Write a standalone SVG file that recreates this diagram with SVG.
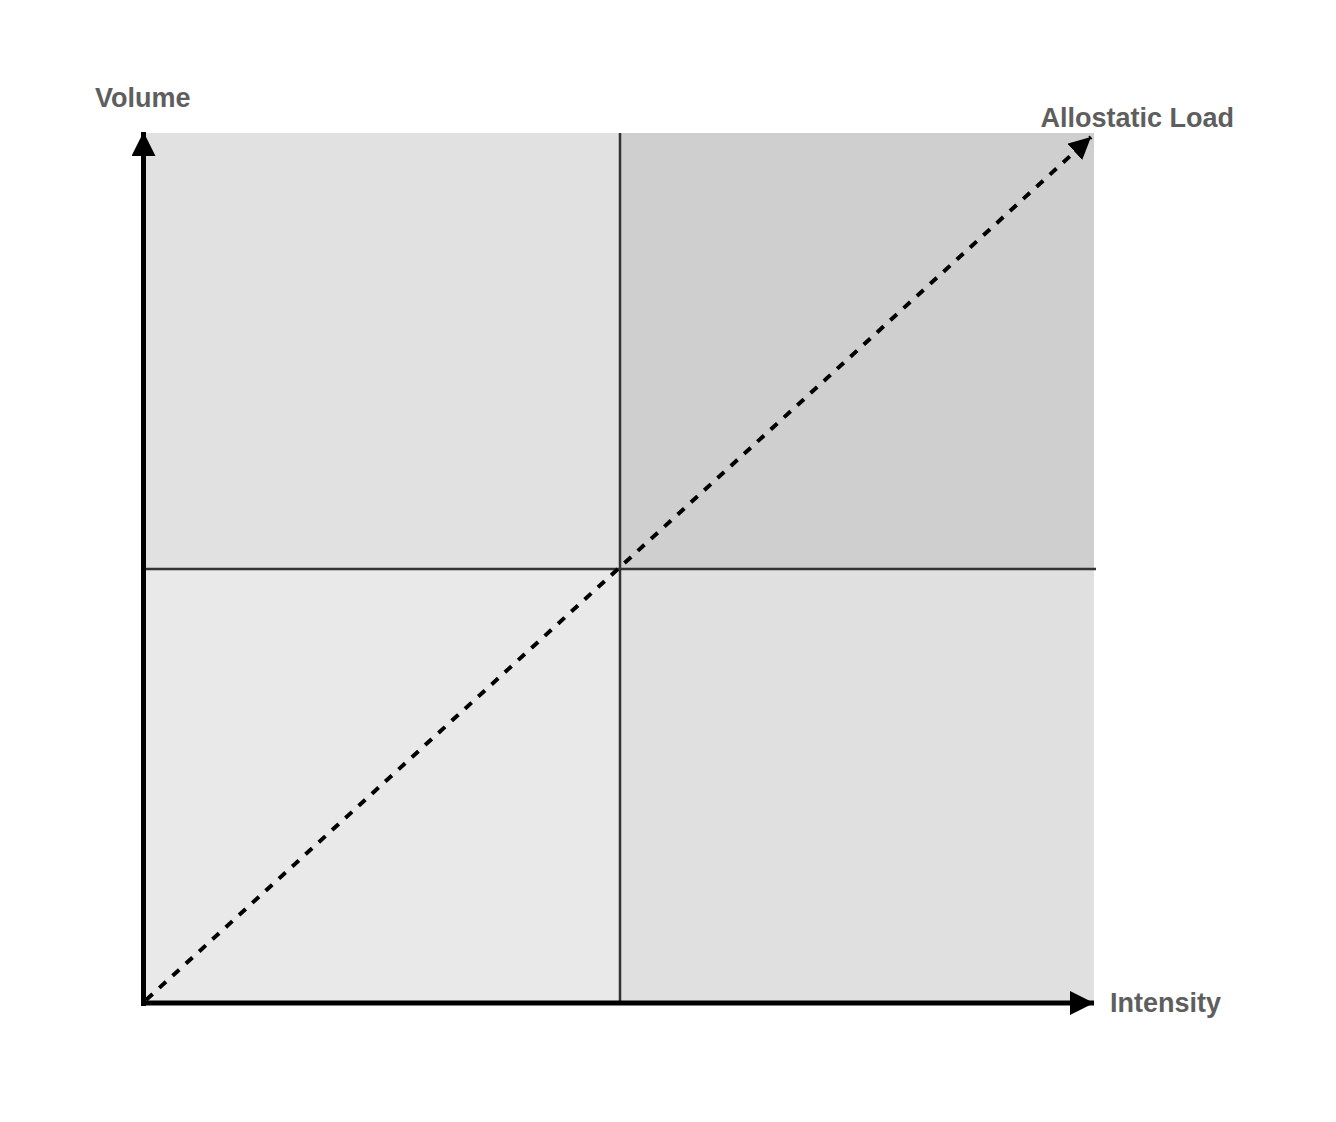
<svg xmlns="http://www.w3.org/2000/svg" width="1336" height="1122" viewBox="0 0 1336 1122">
<defs>
<style>
.lbl{font-family:"Liberation Sans",Arial,sans-serif;font-weight:bold;font-size:27px;fill:#5e5e5e}
.div{stroke:#333333;stroke-width:2.5;fill:none}
.axis{stroke:#000000;stroke-width:5;fill:none}
</style>
<marker id="ah" viewBox="0 0 24 24" refX="24" refY="12" markerWidth="24" markerHeight="24" markerUnits="userSpaceOnUse" orient="auto">
<path d="M0,0 L24,12 L0,24 Z" fill="#000"/>
</marker>
<marker id="ahd" viewBox="0 0 22 22" refX="22" refY="11" markerWidth="22" markerHeight="22" markerUnits="userSpaceOnUse" orient="auto">
<path d="M0,0 L22,11 L0,22 Z" fill="#000"/>
</marker>
</defs>
<rect width="1336" height="1122" fill="#ffffff"/>
<g id="quadrants">
<rect id="q-top-left" x="146" y="133" width="474" height="436" fill="#e1e1e1"/>
<rect id="q-top-right" x="620" y="133" width="474" height="436" fill="#cfcfcf"/>
<rect id="q-bottom-left" x="146" y="569" width="474" height="433" fill="#e9e9e9"/>
<rect id="q-bottom-right" x="620" y="569" width="474" height="433" fill="#e0e0e0"/>
</g>
<g id="connectors">
<line class="div" x1="146" y1="569" x2="1096" y2="569"/>
<line class="div" x1="620" y1="133" x2="620" y2="1002"/>
<line x1="146" y1="1000" x2="1091" y2="137" stroke="#000" stroke-width="4" stroke-dasharray="9,9" marker-end="url(#ahd)"/>
<line class="axis" x1="143.5" y1="1006" x2="143.5" y2="132" marker-end="url(#ah)"/>
<line class="axis" x1="141" y1="1003" x2="1094" y2="1003" marker-end="url(#ah)"/>
</g>
<g id="labels">
<text class="lbl" x="95" y="107">Volume</text>
<text class="lbl" x="1234" y="127" text-anchor="end">Allostatic Load</text>
<text class="lbl" x="1110" y="1012">Intensity</text>
</g>
</svg>
